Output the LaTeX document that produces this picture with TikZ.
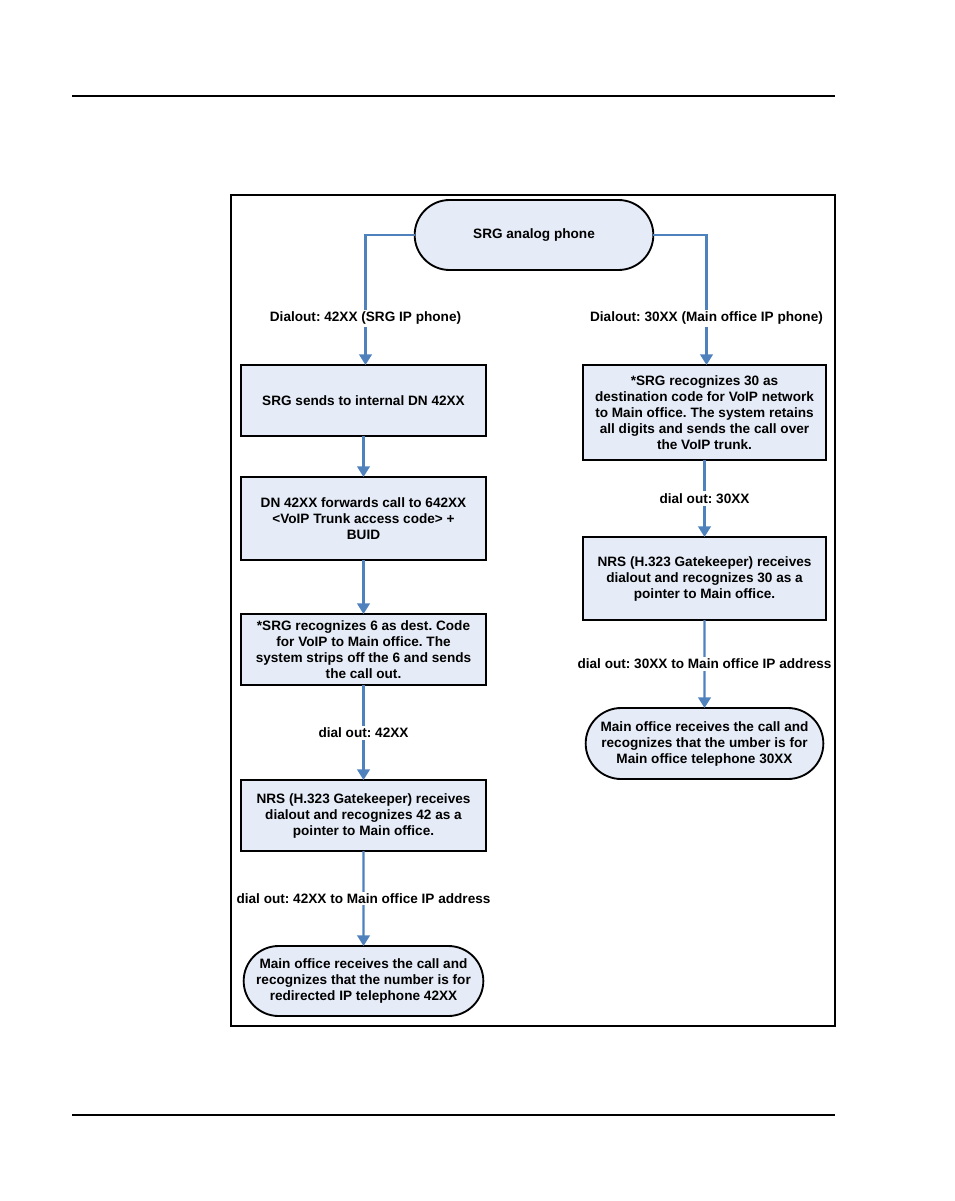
\documentclass[tikz,border=0pt]{standalone}
\usepackage{fontspec}
\setmainfont{Liberation Sans}
\usetikzlibrary{arrows.meta,shapes.misc}

\definecolor{boxfill}{HTML}{E6ECF7}
\definecolor{linkblue}{HTML}{4F81BD}

\begin{document}
\frenchspacing
\begin{tikzpicture}[x=0.75pt, y=-0.75pt,
    every node/.style={font=\fontsize{10.2}{12}\selectfont\bfseries, align=center, outer sep=0pt},
    stepbox/.style={draw, line width=1.4pt, fill=boxfill, rectangle, inner sep=2pt},
    termbox/.style={draw, line width=1.4pt, fill=boxfill, rounded rectangle, inner sep=2pt},
    link/.style={draw=linkblue, line width=1.6pt, -{Triangle[width=9.5pt,length=8pt]}},
    lbl/.style={fill=white, inner sep=1.5pt}]

    \useasboundingbox (0,0) rectangle (954,1201);

    % page rules and frame
    \draw[line width=1.3pt] (72,96) -- (835,96);
    \draw[line width=1.3pt] (72,1115) -- (835,1115);
    \draw[line width=1.2pt] (231,195) rectangle (835,1026);

    % start
    \node[termbox, minimum width=183pt, minimum height=52.5pt] (phone) at (534,235) {SRG analog phone};

    % left column
    \node[stepbox, minimum width=183.75pt, minimum height=53.25pt] (l1) at (363.5,400.5) {SRG sends to internal DN 42XX};
    \node[stepbox, minimum width=183.75pt, minimum height=62.25pt] (l2) at (363.5,518.5)
        {DN 42XX forwards call to 642XX\\ \textless VoIP Trunk access code\textgreater{} +\\ BUID};
    \node[stepbox, minimum width=183.75pt, minimum height=53.25pt] (l3) at (363.5,649.5)
        {*SRG recognizes 6 as dest. Code\\ for VoIP to Main office. The\\ system strips off the 6 and sends\\ the call out.};
    \node[stepbox, minimum width=183.75pt, minimum height=53.25pt] (l4) at (363.5,815.5)
        {NRS (H.323 Gatekeeper) receives\\ dialout and recognizes 42 as a\\ pointer to Main office.};
    \node[termbox, minimum width=183.75pt, minimum height=52.5pt] (lend) at (363.5,981)
        {Main office receives the call and\\ recognizes that the number is for\\ redirected IP telephone 42XX};

    % right column
    \node[stepbox, minimum width=182.25pt, minimum height=71.25pt] (r1) at (704.5,412.5)
        {*SRG recognizes 30 as\\ destination code for VoIP network\\ to Main office. The system retains\\ all digits and sends the call over\\ the VoIP trunk.};
    \node[stepbox, minimum width=182.25pt, minimum height=62.25pt] (r2) at (704.5,578.5)
        {NRS (H.323 Gatekeeper) receives\\ dialout and recognizes 30 as a\\ pointer to Main office.};
    \node[termbox, minimum width=182.25pt, minimum height=53.25pt] (rend) at (704.5,743.5)
        {Main office receives the call and\\ recognizes that the umber is for\\ Main office telephone 30XX};

    % connectors
    \draw[link] (phone.west) -| node[lbl, pos=0.82] {Dialout: 42XX (SRG IP phone)} ([xshift=1.5]l1.north);
    \draw[link] (phone.east) -| node[lbl, pos=0.82] {Dialout: 30XX (Main office IP phone)} ([xshift=1.5]r1.north);
    \draw[link] (l1) -- (l2);
    \draw[link] (l2) -- (l3);
    \draw[link] (l3) -- node[lbl] {dial out: 42XX} (l4);
    \draw[link] (l4) -- node[lbl] {dial out: 42XX to Main office IP address} (lend);
    \draw[link] (r1) -- node[lbl] {dial out: 30XX} (r2);
    \draw[link] (r2) -- node[lbl] {dial out: 30XX to Main office IP address} (rend);
\end{tikzpicture}
\end{document}
